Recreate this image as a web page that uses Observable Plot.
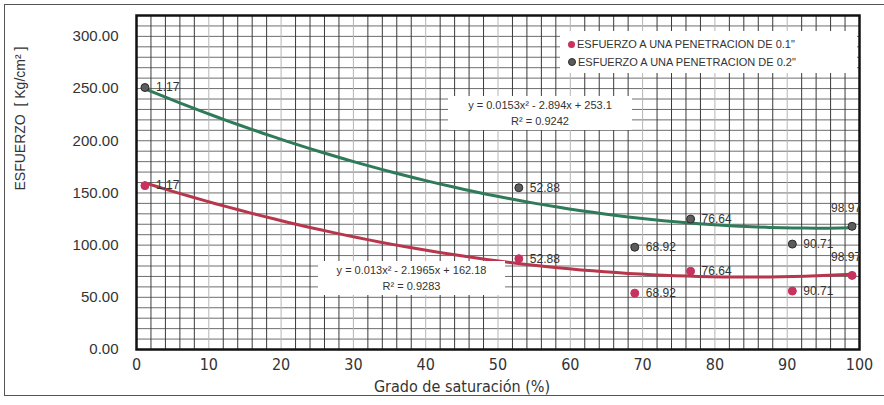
<!DOCTYPE html>
<html>
<head>
<meta charset="utf-8">
<script src="https://cdn.jsdelivr.net/npm/d3@7"></script>
<script src="https://cdn.jsdelivr.net/npm/@observablehq/plot@0.6"></script>
<style>
  body { margin: 0; background: #fff; }
  #wrap { position: relative; width: 884px; height: 405px; overflow: hidden;
          font-family: "Liberation Sans", Arial, sans-serif; }
  #wrap svg { position: absolute; left: 0; top: 0; }
  #marco { position: absolute; left: 4px; top: 4px; width: 900px; height: 390px;
           border: 1.5px solid #555; pointer-events: none; }
  .leyenda { position: absolute; left: 560px; top: 31px; width: 297px; height: 42px;
             background: #fff; font-size: 11px; color: #333; }
  .leyenda div { position: absolute; left: 8px; white-space: nowrap; }
  .leyenda span.m { display: inline-block; width: 7px; height: 7px; border-radius: 50%;
                    margin-right: 2px; vertical-align: 0px; }
  .ecuacion { position: absolute; background: #fff; text-align: center; font-size: 11px;
              line-height: 16px; color: #333; padding: 1px 0; }
</style>
</head>
<body>
<div id="wrap">
  <div id="marco"></div>
</div>
<script>
// Grado de saturación (%) de cada ensayo
const saturacion = [1.17, 52.88, 68.92, 76.64, 90.71, 98.97];
// Esfuerzo [Kg/cm²] a 0.1" y 0.2" de penetración
const esfuerzo01 = [157, 87, 54, 75, 56, 71];
const esfuerzo02 = [251, 155, 98, 125, 101, 118];
// Coeficientes de las líneas de tendencia polinómicas (a·x² + b·x + c)
const coef01 = [0.013, -2.1965, 162.18];
const coef02 = [0.0153, -2.894, 253.1];
const r2_01 = 0.9283;
const r2_02 = 0.9242;
// Etiquetas de la leyenda
const series = ['ESFUERZO A UNA PENETRACION DE 0.1"', 'ESFUERZO A UNA PENETRACION DE 0.2"'];
// Marcas de los ejes y de la cuadrícula
const xTicks = [0, 10, 20, 30, 40, 50, 60, 70, 80, 90, 100];
const yTicks = [0, 50, 100, 150, 200, 250, 300];
const xGrid = d3.range(2, 100, 2);
const yGrid = d3.range(10, 320, 10);

const rojo = "#b8364c", rojoPunto = "#c8325e";
const verde = "#2f7a58", grisPunto = "#5c5c5c";
const fuenteEstrecha = "'Liberation Sans Narrow', 'Arial Narrow', 'DejaVu Sans Condensed', sans-serif";

const puntos = [];
saturacion.forEach((s, i) => {
  puntos.push({x: s, y: esfuerzo01[i], serie: 0, i});
  puntos.push({x: s, y: esfuerzo02[i], serie: 1, i});
});
const ultimo = saturacion.length - 1;

function tendencia(coef, serie) {
  const [a, b, c] = coef;
  const x0 = d3.min(saturacion), x1 = d3.max(saturacion);
  return d3.range(0, 61).map(k => {
    const x = x0 + (x1 - x0) * k / 60;
    return {x, y: a * x * x + b * x + c, serie};
  });
}
const curvas = [...tendencia(coef01, 0), ...tendencia(coef02, 1)];

const chart = Plot.plot({
  width: 884,
  height: 405,
  marginLeft: 136,
  marginRight: 25,
  marginTop: 15,
  marginBottom: 56,
  style: {background: "transparent", fontFamily: "'Liberation Sans', Arial, sans-serif"},
  x: {domain: [0, 100]},
  y: {domain: [0, 320]},
  marks: [
    Plot.ruleY(yGrid, {stroke: "#6e6e6e", strokeWidth: 1}),
    Plot.ruleX(xGrid, {stroke: d => d % 10 === 0 ? "#b5b5b5" : "#3a3a3a", strokeWidth: 1}),
    Plot.frame({stroke: "#111", strokeWidth: 2.5}),
    Plot.axisY({ticks: yTicks, tickFormat: d3.format(".2f"), tickSize: 0, tickPadding: 18,
                fontSize: 15, fill: "#333", label: null}),
    Plot.axisX({ticks: xTicks, tickFormat: d => String(d), tickSize: 0, tickPadding: 9,
                fontSize: 16, fill: "#333", label: null, fontFamily: fuenteEstrecha}),
    Plot.text(["Grado de saturación (%)"], {frameAnchor: "bottom", dy: 42, dx: -36,
                fontSize: 16, fill: "#333", fontFamily: fuenteEstrecha}),
    Plot.text(["ESFUERZO  [ Kg/cm² ]"], {frameAnchor: "left", rotate: -90, dx: -116, dy: 8,
                fontSize: 14, fill: "#333"}),
    Plot.line(curvas, {x: "x", y: "y", z: "serie",
                stroke: d => d.serie === 0 ? rojo : verde, strokeWidth: 3}),
    Plot.text(puntos.filter(d => d.i !== ultimo), {x: "x", y: "y", text: d => d.x.toFixed(2),
                textAnchor: "start", dx: 11, fontSize: 12, fill: "#333", ariaLabel: "etiquetas"}),
    Plot.text(puntos.filter(d => d.i === ultimo), {x: "x", y: "y", text: d => d.x.toFixed(2),
                textAnchor: "middle", dx: -6, dy: -18, fontSize: 12, fill: "#333", ariaLabel: "etiquetas"}),
    Plot.dot(puntos, {x: "x", y: "y", r: 4,
                fill: d => d.serie === 0 ? rojoPunto : grisPunto,
                stroke: d => d.serie === 0 ? rojoPunto : "#2a2a2a", strokeWidth: 1})
  ]
});

const wrap = document.getElementById("wrap");
wrap.insertBefore(chart, wrap.firstChild);

// Fondo blanco detrás de cada etiqueta de dato
chart.querySelectorAll('g[aria-label="etiquetas"] text').forEach(t => {
  const b = t.getBBox();
  const r = document.createElementNS("http://www.w3.org/2000/svg", "rect");
  r.setAttribute("x", b.x - 3);
  r.setAttribute("y", b.y - 1);
  r.setAttribute("width", b.width + 6);
  r.setAttribute("height", b.height + 2);
  r.setAttribute("fill", "#fff");
  const tr = t.getAttribute("transform");
  if (tr) r.setAttribute("transform", tr);
  t.parentNode.insertBefore(r, t);
});

// Leyenda
const leyenda = document.createElement("div");
leyenda.className = "leyenda";
leyenda.innerHTML =
  `<div style="top:7px"><span class="m" style="background:${rojoPunto}"></span>${series[0]}</div>` +
  `<div style="top:25px"><span class="m" style="background:${grisPunto};border:1px solid #2a2a2a;width:6px;height:6px"></span>${series[1]}</div>`;
wrap.appendChild(leyenda);

// Ecuaciones de las líneas de tendencia
function ecuacion(coef, r2, left, top, width) {
  const [a, b, c] = coef;
  const sgn = v => v < 0 ? `- ${Math.abs(v)}` : `+ ${v}`;
  const d = document.createElement("div");
  d.className = "ecuacion";
  d.style.left = left + "px";
  d.style.top = top + "px";
  d.style.width = width + "px";
  d.innerHTML = `y = ${a}x² ${sgn(b)}x ${sgn(c)}<br>R² = ${r2}`;
  wrap.appendChild(d);
}
ecuacion(coef02, r2_02, 448, 96, 184);
ecuacion(coef01, r2_01, 318, 261, 187);
</script>
</body>
</html>
